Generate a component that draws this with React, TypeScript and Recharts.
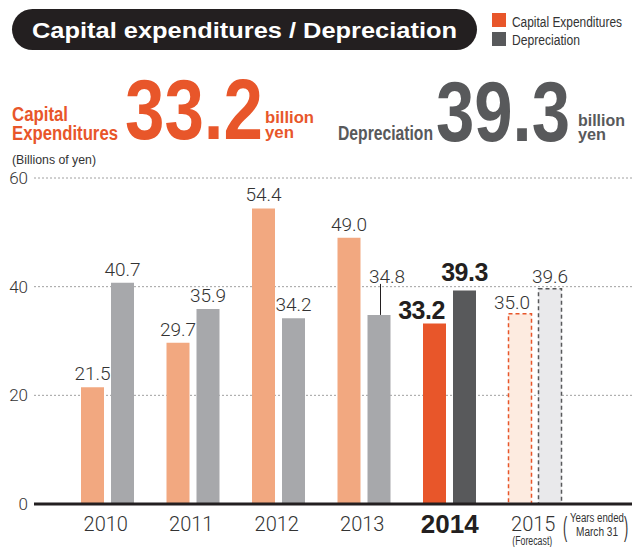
import React from 'react';
import { BarChart, Bar, XAxis, YAxis, CartesianGrid, LabelList, Cell } from 'recharts';

const years = ['2010', '2011', '2012', '2013', '2014', '2015'];
const capex = [21.5, 29.7, 54.4, 49.0, 33.2, 35.0];
const depreciation = [40.7, 35.9, 34.2, 34.8, 39.3, 39.6];
const yTicks = [0, 20, 40, 60];

const data = years.map((year, i) => ({ year, capex: capex[i], depreciation: depreciation[i] }));

const ORANGE = '#e8562a';
const DARK = '#58595b';
const TEXT = '#333333';
const LIGHT_FONT = 'Roboto, "Liberation Sans", sans-serif';
const BOLD_FONT = '"Liberation Sans", Arial, sans-serif';

const capexFill = (year: string) => (year === '2014' ? ORANGE : year === '2015' ? '#fdebe0' : '#f2a880');
const depFill = (year: string) => (year === '2014' ? DARK : year === '2015' ? '#e9e9eb' : '#a7a8ab');

const makeLabel = (series: 'capex' | 'dep') => (props: any) => {
  const { x, y, width, value, index } = props;
  const year = years[index];
  const cx = x + width / 2;
  let dx = 0;
  let gap = 7;
  let bold = false;
  let leader = false;
  if (series === 'capex') {
    if (year === '2014') { dx = -13; gap = 5; bold = true; }
    if (year === '2015') { dx = -8; gap = 5; }
  } else {
    if (year === '2013') { dx = 8; gap = 32; leader = true; }
    if (year === '2014') { gap = 9; bold = true; }
    if (year === '2015') { gap = 6; }
  }
  return (
    <g>
      {leader && <line x1={cx + 1.5} x2={cx + 1.5} y1={y - gap + 1} y2={y} stroke="#231f20" strokeWidth={1} />}
      <text
        x={cx + dx}
        y={y - gap}
        textAnchor="middle"
        fill={bold ? '#231f20' : TEXT}
        fontSize={bold ? 25 : 19}
        fontWeight={bold ? 700 : 300}
        fontFamily={bold ? BOLD_FONT : LIGHT_FONT}
        letterSpacing={bold ? -0.5 : 0}
      >
        {Number(value).toFixed(1)}
      </text>
    </g>
  );
};

const XTick = (props: any) => {
  const { x, payload } = props;
  const year = payload.value;
  if (year === '2014') {
    return (
      <text x={x} y={533} textAnchor="middle" fill="#231f20" fontSize={26} fontWeight={700} fontFamily={BOLD_FONT}>
        {year}
      </text>
    );
  }
  return (
    <g>
      <text x={x - 2} y={531} textAnchor="middle" fill={TEXT} fontSize={20} fontWeight={300} fontFamily={LIGHT_FONT}>
        {year}
      </text>
      {year === '2015' && (
        <text x={x - 3} y={545} textAnchor="middle" fill={TEXT} fontSize={12} fontFamily={BOLD_FONT} textLength={40} lengthAdjust="spacingAndGlyphs">
          (Forecast)
        </text>
      )}
    </g>
  );
};

const YTick = (props: any) => {
  const { x, y, payload } = props;
  return (
    <text x={x} y={y} dy="0.35em" textAnchor="end" fill={TEXT} fontSize={17} fontWeight={300} fontFamily={LIGHT_FONT}>
      {payload.value}
    </text>
  );
};

const Header = () => (
  <svg width={632} height={547} style={{ position: 'absolute', left: 0, top: 0, pointerEvents: 'none' }}>
    <rect x={12} y={9} width={465} height={41} rx={20.5} fill="#231f20" />
    <text x={32} y={38} fill="#fff" fontSize={22} fontWeight={700} fontFamily={BOLD_FONT} textLength={425} lengthAdjust="spacingAndGlyphs">
      Capital expenditures / Depreciation
    </text>

    <rect x={492} y={13} width={14} height={14} fill={ORANGE} />
    <text x={512} y={27} fill={TEXT} fontSize={14} fontFamily={BOLD_FONT} textLength={110} lengthAdjust="spacingAndGlyphs">
      Capital Expenditures
    </text>
    <rect x={492} y={32} width={14} height={14} fill={DARK} />
    <text x={512} y={45} fill={TEXT} fontSize={14} fontFamily={BOLD_FONT} textLength={68} lengthAdjust="spacingAndGlyphs">
      Depreciation
    </text>

    <g fill={ORANGE} fontFamily={BOLD_FONT} fontWeight={700}>
      <text x={12} y={121} fontSize={20} textLength={56} lengthAdjust="spacingAndGlyphs">Capital</text>
      <text x={12} y={140} fontSize={20} textLength={106} lengthAdjust="spacingAndGlyphs">Expenditures</text>
      <text x={125} y={139} fontSize={86} textLength={138} lengthAdjust="spacingAndGlyphs">33.2</text>
      <text x={265} y={123} fontSize={17} textLength={49} lengthAdjust="spacingAndGlyphs">billion</text>
      <text x={265} y={138} fontSize={17} textLength={29} lengthAdjust="spacingAndGlyphs">yen</text>
    </g>
    <text x={12} y={164} fill={TEXT} fontSize={12} fontFamily={BOLD_FONT} textLength={84} lengthAdjust="spacingAndGlyphs">
      (Billions of yen)
    </text>

    <g fill={DARK} fontFamily={BOLD_FONT} fontWeight={700}>
      <text x={338} y={140} fontSize={20} textLength={95} lengthAdjust="spacingAndGlyphs">Depreciation</text>
      <text x={436} y={141} fontSize={86} textLength={134} lengthAdjust="spacingAndGlyphs">39.3</text>
      <text x={578} y={126} fontSize={17} textLength={47} lengthAdjust="spacingAndGlyphs">billion</text>
      <text x={578} y={140} fontSize={17} textLength={28} lengthAdjust="spacingAndGlyphs">yen</text>
    </g>

    <g fill={TEXT} fontFamily={BOLD_FONT}>
      <text x={563} y={536} fontSize={28} fontWeight={300} transform="translate(563 0) scale(0.45 1) translate(-563 0)">(</text>
      <text x={597} y={522} fontSize={12} textAnchor="middle" textLength={54} lengthAdjust="spacingAndGlyphs">Years ended</text>
      <text x={597} y={536} fontSize={12} textAnchor="middle" textLength={42} lengthAdjust="spacingAndGlyphs">March 31</text>
      <text x={624} y={536} fontSize={28} fontWeight={300} transform="translate(624 0) scale(0.45 1) translate(-624 0)">)</text>
    </g>
  </svg>
);

export default function App() {
  return (
    <div style={{ position: 'absolute', left: 0, top: 0, width: 632, height: 547, background: '#fff' }}>
      <BarChart
        width={632}
        height={547}
        data={data}
        margin={{ top: 178, right: 0, left: 0, bottom: 13 }}
        barSize={23}
        barGap={7}
      >
        <CartesianGrid vertical={false} stroke="#a0a0a0" strokeDasharray="2 2" />
        <XAxis
          dataKey="year"
          height={30}
          padding={{ left: 31, right: 54 }}
          axisLine={{ stroke: '#231f20', strokeWidth: 3 }}
          tickLine={false}
          tick={<XTick />}
          interval={0}
        />
        <YAxis
          domain={[0, 60]}
          ticks={yTicks}
          width={34}
          axisLine={false}
          tickLine={false}
          tickSize={6}
          tickMargin={0}
          tick={<YTick />}
        />
        <Bar dataKey="capex" isAnimationActive={false}>
          {data.map((d) => (
            <Cell
              key={`c-${d.year}`}
              fill={capexFill(d.year)}
              stroke={d.year === '2015' ? ORANGE : 'none'}
              strokeWidth={1.5}
              strokeDasharray={d.year === '2015' ? '4 3' : undefined}
            />
          ))}
          <LabelList dataKey="capex" content={makeLabel('capex')} />
        </Bar>
        <Bar dataKey="depreciation" isAnimationActive={false}>
          {data.map((d) => (
            <Cell
              key={`d-${d.year}`}
              fill={depFill(d.year)}
              stroke={d.year === '2015' ? DARK : 'none'}
              strokeWidth={1.5}
              strokeDasharray={d.year === '2015' ? '4 3' : undefined}
            />
          ))}
          <LabelList dataKey="depreciation" content={makeLabel('dep')} />
        </Bar>
      </BarChart>
      <Header />
    </div>
  );
}
